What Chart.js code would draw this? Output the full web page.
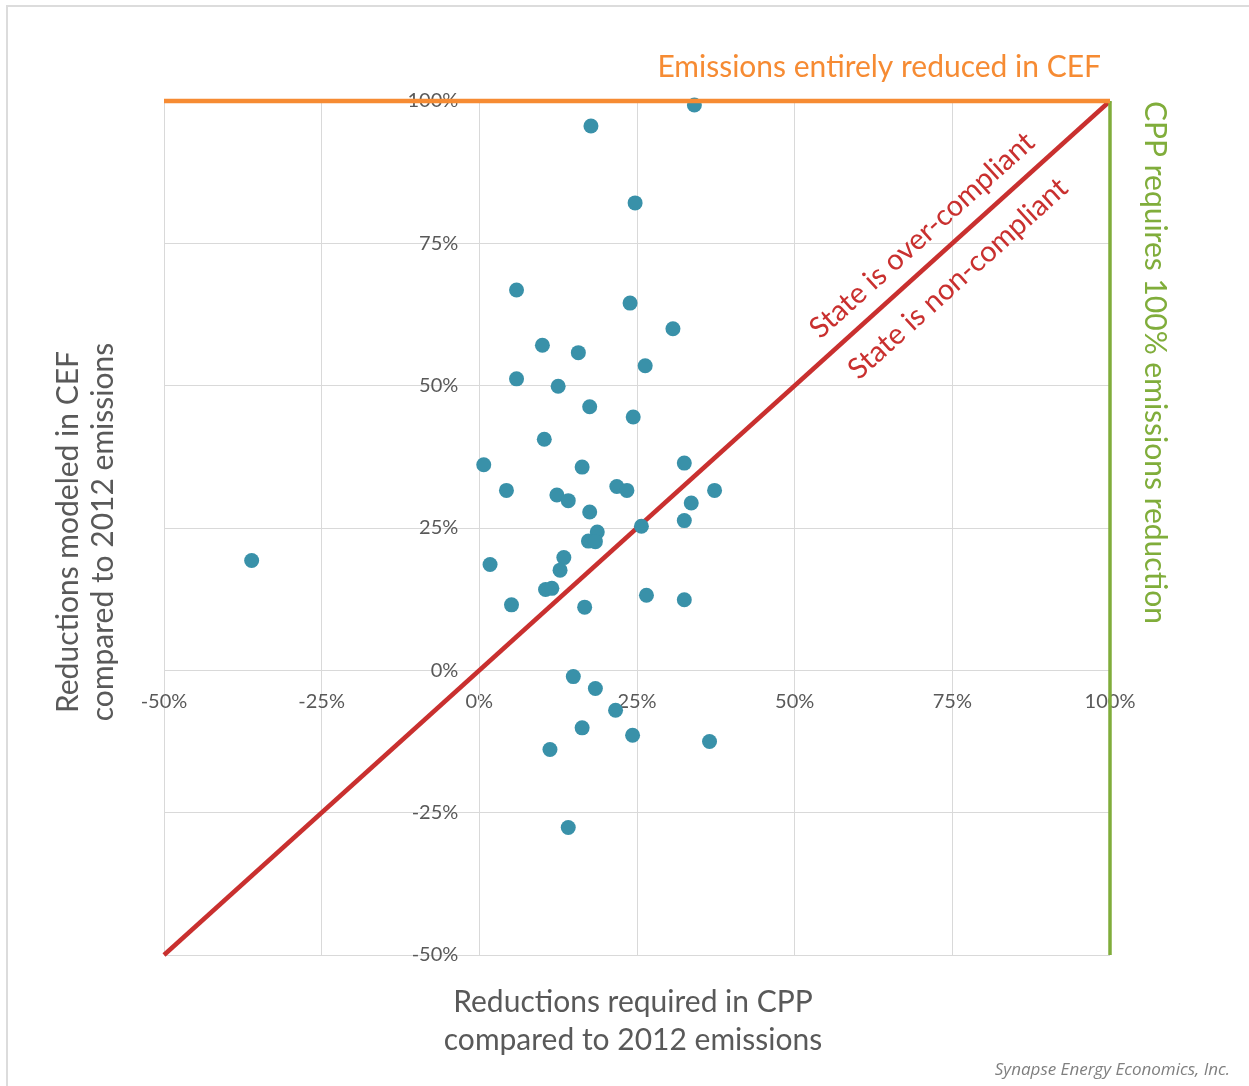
<!DOCTYPE html>
<html>
<head>
<meta charset="utf-8">
<script src="https://cdn.jsdelivr.net/npm/chart.js@4"></script>
<style>
  body { margin: 0; background: #fff; }
  #wrap { position: relative; width: 1249px; height: 1086px; }
  #frame { position: absolute; left: 6px; top: 5px; width: 1300px; height: 1200px;
           border-left: 2px solid #dcdcdc; border-top: 2px solid #dcdcdc; }
</style>
</head>
<body>
<div id="wrap">
  <div id="frame"></div>
  <canvas id="myChart"></canvas>
</div>
<script>

// reductions required in CPP (x) and modeled in CEF (y), percent vs 2012
const cppRequired = [34.1, 17.7, 24.7, 5.9, 23.9, 30.7, 10.0, 15.7, 26.3, 5.9, 12.5, 17.5, 24.4, 10.3,
  0.7, 16.3, 32.5, 4.3, 12.3, 14.1, 21.8, 23.4, 37.3, 33.6, 17.5, 32.5, 25.7, 18.7, 17.3, 18.4,
  13.4, -36.1, 1.7, 12.8, 10.5, 11.5, 26.5, 32.5, 5.1, 16.7, 14.9, 18.4, 21.6, 16.3, 24.3, 36.5,
  11.2, 14.1]
const cefModeled = [99.3, 95.6, 82.1, 66.8, 64.5, 60.0, 57.1, 55.8, 53.5, 51.2, 49.9, 46.3, 44.5, 40.6,
  36.1, 35.7, 36.4, 31.6, 30.8, 29.8, 32.3, 31.6, 31.6, 29.4, 27.8, 26.3, 25.3, 24.3, 22.7, 22.6,
  19.8, 19.3, 18.6, 17.6, 14.2, 14.4, 13.2, 12.4, 11.5, 11.1, -1.1, -3.2, -7.0, -10.1, -11.4, -12.5,
  -13.9, -27.6]

// reference lines
const parityX = [-50, 100]
const parityY = [-50, 100]
const fullCefX = [-50, 100]
const fullCefY = [100, 100]
const fullCppX = [100, 100]
const fullCppY = [-50, 100]

const tickStep = 25

const orange = '#F68B33'
const green = '#80AD3B'
const red = '#C9302F'
const teal = '#3991A9'
const gray = '#595959'
const tickFont = '20px Lato'

const pts = (xs, ys) => xs.map((v, i) => ({ x: v, y: ys[i] }))

// y tick labels sit left of the x = 0 line
const yLabels = {
  id: 'yLabels',
  beforeDatasetsDraw(chart) {
    const { ctx, scales: { x, y } } = chart
    const x0 = x.getPixelForValue(0)
    ctx.save()
    ctx.fillStyle = gray
    ctx.font = tickFont
    ctx.textAlign = 'right'
    ctx.textBaseline = 'middle'
    y.ticks.forEach(t => ctx.fillText(t.value + '%', x0 - 21, y.getPixelForValue(t.value)))
    ctx.restore()
  }
}

const notes = {
  id: 'notes',
  afterDraw(chart) {
    const { ctx, chartArea: a, scales: { x, y } } = chart
    ctx.save()

    ctx.fillStyle = orange
    ctx.font = '30px Lato'
    ctx.textAlign = 'right'
    ctx.textBaseline = 'middle'
    ctx.fillText('Emissions entirely reduced in CEF', a.right - 9, a.top - 34)

    ctx.save()
    ctx.fillStyle = green
    ctx.translate(a.right + 45, a.top)
    ctx.rotate(Math.PI / 2)
    ctx.textAlign = 'left'
    ctx.fillText('CPP requires 100% emissions reduction', 0, 0)
    ctx.restore()

    // axis titles
    ctx.fillStyle = gray
    ctx.font = '30px Lato'
    ctx.textAlign = 'center'
    const cx = (a.left + a.right) / 2 - 4
    ctx.fillText('Reductions required in CPP', cx, a.bottom + 47)
    ctx.fillText('compared to 2012 emissions', cx, a.bottom + 85)

    ctx.save()
    ctx.translate(a.left - 96, (a.top + a.bottom) / 2 + 4)
    ctx.rotate(-Math.PI / 2)
    ctx.fillText('Reductions modeled in CEF', 0, 0)
    ctx.fillText('compared to 2012 emissions', 0, 35)
    ctx.restore()

    // labels along the parity line
    const ang = Math.atan2(y.getPixelForValue(100) - y.getPixelForValue(-50),
      x.getPixelForValue(100) - x.getPixelForValue(-50))
    ctx.fillStyle = red
    ctx.font = '29px Lato'
    const put = (t, vx, vy) => {
      ctx.save()
      ctx.translate(x.getPixelForValue(vx), y.getPixelForValue(vy))
      ctx.rotate(ang)
      ctx.fillText(t, 0, 0)
      ctx.restore()
    }
    put('State is over-compliant', 70.2, 76.4)
    put('State is non-compliant', 75.9, 68.8)

    ctx.fillStyle = '#7f7f7f'
    ctx.font = 'italic 17px "Open Sans"'
    ctx.textAlign = 'right'
    ctx.fillText('Synapse Energy Economics, Inc.', 1230, 1070)
    ctx.restore()
  }
}

const axis = (pos, fit, showTicks) => ({
  type: 'linear',
  min: -50,
  max: 100,
  position: pos,
  afterFit: fit,
  grid: { color: '#d9d9d9', drawTicks: false },
  border: { color: '#d9d9d9' },
  ticks: {
    display: showTicks,
    stepSize: tickStep,
    padding: 19,
    color: gray,
    font: { family: 'Lato', size: 20 },
    callback: v => v + '%'
  }
})

new Chart(document.getElementById('myChart'), {
  type: 'scatter',
  data: {
    datasets: [{
      data: pts(fullCefX, fullCefY),
      showLine: true,
      clip: false,
      borderColor: orange,
      borderWidth: 4.5,
      pointRadius: 0
    }, {
      data: pts(fullCppX, fullCppY),
      showLine: true,
      clip: false,
      borderColor: green,
      borderWidth: 3.5,
      pointRadius: 0
    }, {
      data: pts(cppRequired, cefModeled),
      clip: false,
      backgroundColor: teal,
      borderWidth: 0,
      pointRadius: 7.5
    }, {
      data: pts(parityX, parityY),
      showLine: true,
      clip: false,
      borderColor: red,
      borderWidth: 4.5,
      pointRadius: 0
    }]
  },
  options: {
    responsive: true,
    maintainAspectRatio: false,
    animation: false,
    layout: { padding: { left: 164, right: 139, top: 101, bottom: 131 } },
    plugins: { legend: { display: false }, tooltip: { enabled: false } },
    scales: {
      x: axis({ y: 0 }, s => { s.height = 0 }, true),
      y: axis({ x: 0 }, s => { s.width = 0 }, false)
    }
  },
  plugins: [yLabels, notes]
})
</script>
</body>
</html>
